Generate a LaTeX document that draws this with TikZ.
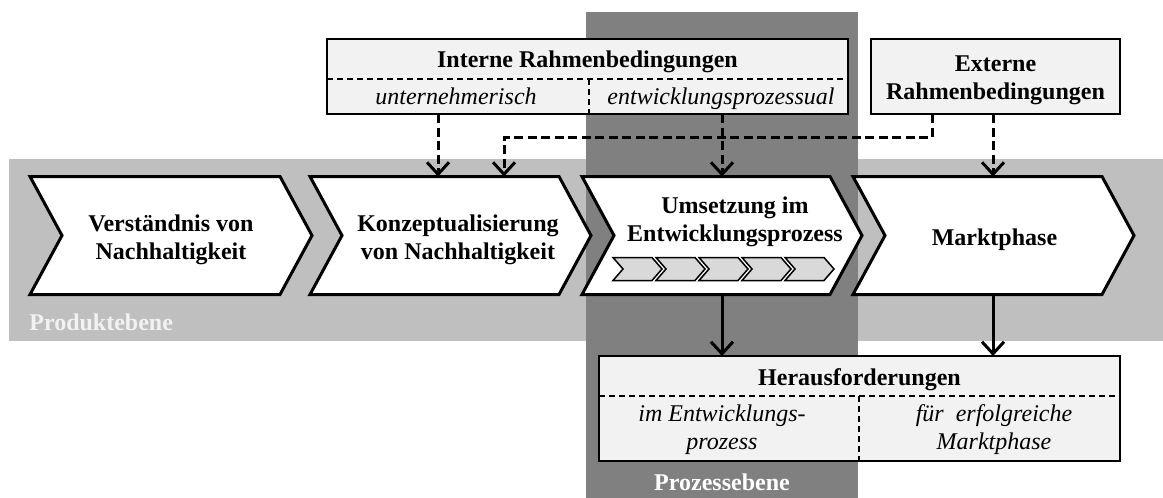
\documentclass[tikz,border=0pt]{standalone}
\usepackage{fontspec}
\setmainfont{Liberation Serif}
\usetikzlibrary{arrows.meta,calc}
\definecolor{bandlight}{HTML}{BFBFBF}
\definecolor{banddark}{HTML}{808080}
\definecolor{boxfill}{HTML}{F2F2F2}
\definecolor{minifill}{HTML}{D9D9D9}
\definecolor{prodtext}{HTML}{F2F2F2}
\begin{document}
\begin{tikzpicture}[x=0.5pt,y=-0.5pt,
  font=\fontsize{12}{14}\selectfont,
  chev/.style={draw=none, inner sep=0pt, outer sep=0pt, minimum height=59pt},
  chevline/.style={draw=black, fill=white, line width=1.5pt, line join=miter},
  lbl/.style={inner sep=0pt, align=center, font=\fontsize{12}{14}\selectfont\bfseries},
  ital/.style={inner sep=0pt, align=center, font=\fontsize{12}{14}\selectfont\itshape},
  infobox/.style={draw=black, fill=boxfill, line width=1pt, inner sep=0pt, outer sep=0pt},
  sepline/.style={line width=0.75pt, dash pattern=on 3pt off 2pt},
  dasharrow/.style={line width=1.5pt, dash pattern=on 4.5pt off 2.25pt, -{Straight Barb[length=6pt,width=11pt]}},
  solidarrow/.style={line width=1.5pt, -{Straight Barb[length=6pt,width=11pt]}},
  minichev/.style={draw=black, fill=minifill, line width=0.75pt, line join=miter},
  levellbl/.style={inner sep=0pt, font=\fontsize{12}{14}\selectfont\bfseries}
]
\useasboundingbox (0,0) rectangle (1163,498);

% level bands
\fill[bandlight] (9,159) rectangle (1163,341);
\fill[banddark] (586,12) rectangle (858,498);
\node[levellbl, text=prodtext, anchor=base west] (prodlbl) at (29,330) {Produktebene};
\node[levellbl, text=white, anchor=base] (proclbl) at (722,490) {Prozessebene};

% chevrons
\node[chev, minimum width=141pt] (c1) at (171,235.5) {};
\node[chev, minimum width=140.5pt] (c2) at (450.5,235.5) {};
\node[chev, minimum width=140pt] (c3) at (722,235.5) {};
\node[chev, minimum width=140.5pt] (c4) at (993.5,235.5) {};
\foreach \c in {c1,c2,c3,c4}{
  \draw[chevline] (\c.north west) -- ($(\c.north east)+(-32,0)$) -- (\c.east)
    -- ($(\c.south east)+(-32,0)$) -- (\c.south west) -- ($(\c.west)+(32,0)$) -- cycle;
}
\node[lbl] (t1) at (171,240) {Verständnis von\\Nachhaltigkeit};
\node[lbl] (t2) at (458,240) {Konzeptualisierung\\von Nachhaltigkeit};
\node[lbl] (t3) at (735,222) {Umsetzung im\\Entwicklungsprozess};
\node[lbl] (t4) at (994.5,240) {Marktphase};

% small process chevrons
\foreach \i in {0,...,4}{
  \pgfmathsetmacro\xa{613+43*\i}
  \draw[minichev] (\xa,257.5) -- ({\xa+39},257.5) -- ({\xa+49},269) -- ({\xa+39},280.5)
    -- (\xa,280.5) -- ({\xa+10},269) -- cycle;
}

% internal conditions box
\node[infobox, minimum width=260.5pt, minimum height=37.5pt] (intern) at (587.5,76.5) {};
\draw[sepline] ($(intern.north west)+(0,40)$) -- ($(intern.north east)+(0,40)$);
\draw[sepline] ($(intern.north west)+(262,40)$) -- ($(intern.south west)+(262,0)$);
\node[lbl, anchor=base] (interntitle) at (587.5,67) {Interne Rahmenbedingungen};
\node[ital, anchor=base] (internsub1) at (456,104) {unternehmerisch};
\node[ital, anchor=base] (internsub2) at (721,104) {entwicklungsprozessual};

% external conditions box
\node[infobox, minimum width=124.5pt, minimum height=37.5pt] (extern) at (995.5,76.5) {};
\node[lbl] (externtxt) at (995.5,80) {Externe\\Rahmenbedingungen};

% challenges box
\node[infobox, minimum width=260.5pt, minimum height=52.5pt] (hf) at (859.5,408.5) {};
\draw[sepline] ($(hf.north west)+(0,40)$) -- ($(hf.north east)+(0,40)$);
\draw[sepline] ($(hf.north west)+(260,40)$) -- ($(hf.south west)+(260,0)$);
\node[lbl, anchor=base] (hftitle) at (859.5,385) {Herausforderungen};
\node[ital] (hfsub1) at (722,430) {im Entwicklungs-\\prozess};
\node[ital] (hfsub2) at (994,430) {für\ \ erfolgreiche\\Marktphase};

% connectors
\coordinate (xa) at (438,0);
\coordinate (xb) at (504,0);
\coordinate (xc) at (722,0);
\coordinate (xd) at (932,0);
\coordinate (xe) at (993,0);
\coordinate (yh) at (0,137);
\draw[dasharrow] (intern.south -| xa) -- (c2.north -| xa);
\draw[dasharrow] (extern.south -| xd) -- (yh -| xd) -- (yh -| xb) -- (c2.north -| xb);
\draw[dasharrow] (intern.south -| xc) -- (c3.north -| xc);
\draw[dasharrow] (extern.south -| xe) -- (c4.north -| xe);
\draw[solidarrow] (c3.south -| xc) -- (hf.north -| xc);
\draw[solidarrow] (c4.south -| xe) -- (hf.north -| xe);
\end{tikzpicture}
\end{document}
